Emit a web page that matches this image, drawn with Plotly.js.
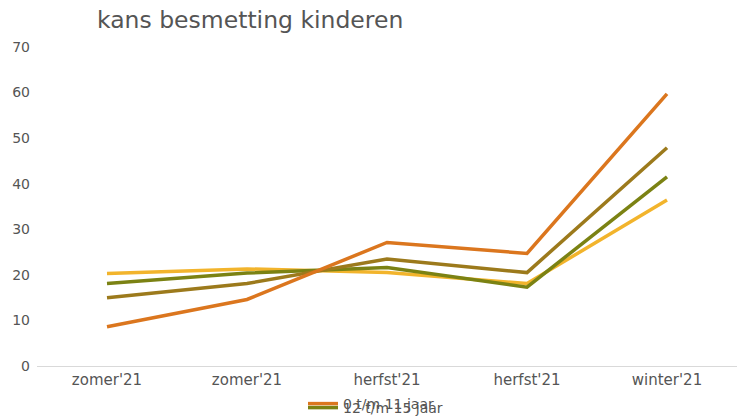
<!DOCTYPE html>
<html><head><meta charset="utf-8">
<script src="https://cdn.plot.ly/plotly-3.0.1.min.js"></script>
<style>body{margin:0;background:#fff}#c{width:737px;height:420px}</style>
</head><body><div id="c"></div>
<script>
const categories = ["zomer'21", "zomer'21", "herfst'21", "herfst'21", "winter'21"];
const xIndex = [0, 1, 2, 3, 4];
const seriesOrange = [8.6, 14.6, 27.1, 24.7, 59.7];
const seriesBrown = [15.0, 18.1, 23.5, 20.5, 47.9];
const seriesOlive = [18.1, 20.4, 21.6, 17.3, 41.5];
const seriesYellow = [20.3, 21.3, 20.5, 18.1, 36.4];
const yTicks = [0, 10, 20, 30, 40, 50, 60, 70];

const lw = 3.5;
const traces = [
  {x: xIndex, y: seriesYellow, mode: 'lines', line: {color: '#F2B42C', width: lw}, showlegend: false, name: 'geel'},
  {x: xIndex, y: seriesOlive, mode: 'lines', line: {color: '#7B8213', width: lw}, name: '12 t/m 15 jaar', legend: 'legend2'},
  {x: xIndex, y: seriesBrown, mode: 'lines', line: {color: '#9C7A1C', width: lw}, showlegend: false, name: 'bruin'},
  {x: xIndex, y: seriesOrange, mode: 'lines', line: {color: '#DB761E', width: lw}, name: '0 t/m 11 jaar', legend: 'legend'}
];
const fam = 'DejaVu Sans, Verdana, sans-serif';
const legFont = {family: fam, size: 14, color: '#555'};
const layout = {
  width: 737, height: 420,
  margin: {l: 37, r: 0, t: 47, b: 54},
  paper_bgcolor: '#fff', plot_bgcolor: '#fff',
  title: {text: 'kans besmetting kinderen', x: 97/737, xanchor: 'left', y: 1 - 20/420, yanchor: 'middle',
    font: {family: fam, size: 23.5, color: '#555'}},
  xaxis: {range: [-0.5, 4.5], tickvals: xIndex, ticktext: categories, showgrid: false, zeroline: false,
    showline: true, linecolor: '#d9d9d9', linewidth: 1, ticks: '',
    tickfont: {family: fam, size: 15, color: '#555'}},
  yaxis: {range: [0, 70], tickvals: yTicks, showgrid: false, zeroline: false, showline: false, ticks: '',
    ticklabelstandoff: 6,
    tickfont: {family: fam, size: 14, color: '#555'}},
  showlegend: true,
  legend: {xref: 'container', yref: 'container', x: 303/737, xanchor: 'left', y: (420-404)/420, yanchor: 'middle',
    orientation: 'h', font: legFont, bgcolor: 'rgba(0,0,0,0)'},
  legend2: {xref: 'container', yref: 'container', x: 303/737, xanchor: 'left', y: (420-408)/420, yanchor: 'middle',
    orientation: 'h', font: legFont, bgcolor: 'rgba(0,0,0,0)'}
};
Plotly.newPlot('c', traces, layout, {displayModeBar: false});
</script></body></html>
